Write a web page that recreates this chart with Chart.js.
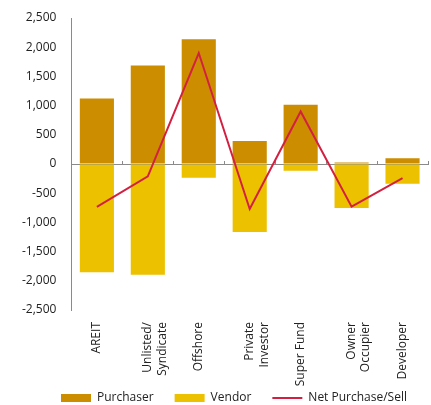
<!DOCTYPE html>
<html>
<head>
<meta charset="utf-8">
<script src="https://cdn.jsdelivr.net/npm/chart.js@4/dist/chart.umd.min.js"></script>
<style>
  html, body { margin: 0; padding: 0; background: #ffffff; }
  #wrap { width: 431px; height: 405px; position: relative; }
</style>
</head>
<body>
<div id="wrap"><canvas id="chart"></canvas></div>
<script>
// Buyer groups along the category axis
const categories = [
  'AREIT',
  ['Unlisted/', 'Syndicate'],
  'Offshore',
  ['Private', 'Investor'],
  'Super Fund',
  ['Owner', 'Occupier'],
  'Developer'
];

// Transaction volumes by group
const purchaserValues = [1120, 1685, 2135, 395, 1015, 25, 100];
const vendorValues = [-1855, -1895, -235, -1165, -115, -755, -340];
const netValues = [-735, -210, 1900, -770, 900, -730, -240];

// Value axis range and tick step
const yMin = -2500;
const yMax = 2500;
const yStep = 500;

const seriesNames = ['Purchaser', 'Vendor', 'Net Purchase/Sell'];

Chart.defaults.font.family = "'Open Sans', 'Noto Sans', sans-serif";
Chart.defaults.font.size = 12;
Chart.defaults.color = '#222222';

const axisGrey = '#8a8a8a';

new Chart(document.getElementById('chart'), {
  type: 'bar',
  data: {
    labels: categories,
    datasets: [
      {
        label: seriesNames[0],
        data: purchaserValues,
        backgroundColor: '#CD8D00',
        borderWidth: 0,
        order: 1,
        barPercentage: 0.67,
        categoryPercentage: 1
      },
      {
        label: seriesNames[1],
        data: vendorValues,
        backgroundColor: '#ECC100',
        borderWidth: 0,
        order: 1,
        barPercentage: 0.67,
        categoryPercentage: 1
      },
      {
        type: 'line',
        label: seriesNames[2],
        data: netValues,
        stack: 'net',
        borderColor: '#D42040',
        backgroundColor: '#D42040',
        borderWidth: 2,
        pointRadius: 0,
        tension: 0,
        order: 0
      }
    ]
  },
  options: {
    responsive: true,
    maintainAspectRatio: false,
    animation: false,
    layout: { padding: { left: 18, right: 3, top: 18, bottom: -9 } },
    plugins: {
      tooltip: { enabled: false },
      legend: {
        position: 'bottom',
        align: 'end',
        labels: {
          usePointStyle: true,
          pointStyleWidth: 30,
          boxHeight: 8,
          padding: 21,
          color: '#222222',
          font: { size: 12 },
          sort: (a, b) => a.datasetIndex - b.datasetIndex,
          generateLabels(chart) {
            const items = Chart.defaults.plugins.legend.labels.generateLabels(chart);
            items.forEach(item => {
              const isLine = item.datasetIndex === 2;
              item.pointStyle = isLine ? 'line' : 'rect';
              item.lineWidth = isLine ? 2 : 0;
            });
            return items;
          }
        }
      }
    },
    scales: {
      // category labels hang below the bottom of the value range
      x: {
        stacked: true,
        offset: true,
        position: { y: yMin },
        grid: { display: false, drawTicks: false },
        border: { display: false },
        ticks: {
          minRotation: 90,
          maxRotation: 90,
          autoSkip: false,
          padding: 12,
          color: '#222222'
        }
      },
      // zero line with short upward tick marks between categories
      xZero: {
        type: 'category',
        axis: 'x',
        labels: categories,
        position: { y: 0 },
        offset: true,
        grid: {
          offset: true,
          drawOnChartArea: false,
          drawTicks: true,
          tickLength: -4,
          color: axisGrey,
          lineWidth: 1
        },
        border: { display: true, color: axisGrey, width: 1 },
        ticks: { display: false }
      },
      // room under the plot for the rotated category labels
      xRoom: {
        type: 'category',
        axis: 'x',
        labels: categories,
        position: 'bottom',
        grid: { display: false, drawTicks: false },
        border: { display: false },
        ticks: { display: false },
        afterFit(scale) { scale.height = 61; }
      },
      y: {
        stacked: true,
        min: yMin,
        max: yMax,
        // invisible tick marks keep the labels clear of the axis line
        grid: {
          display: true,
          drawOnChartArea: false,
          drawTicks: true,
          tickLength: 11,
          color: 'rgba(0,0,0,0)'
        },
        border: { display: true, color: axisGrey, width: 1 },
        ticks: {
          stepSize: yStep,
          padding: 4,
          color: '#222222',
          callback: (v) => Number(v).toLocaleString('en-US')
        }
      }
    }
  }
});
</script>
</body>
</html>
